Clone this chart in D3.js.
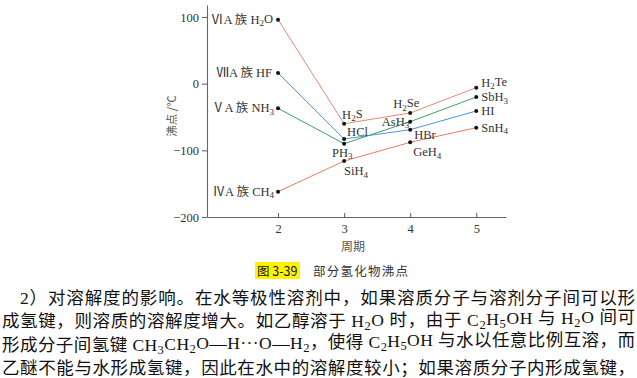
<!DOCTYPE html>
<html>
<head>
<meta charset="utf-8">
<script src="https://cdn.jsdelivr.net/npm/d3@7"></script>
<style>
  body { margin: 0; background: #fff; }
  svg { display: block; }
</style>
</head>
<body>
<script>
// boiling points of hydrides (°C)
const periods = [2, 3, 4, 5];
const groupIV = ["CH4", "SiH4", "GeH4", "SnH4"];
const groupIVValues = [-162, -116, -88, -66];
const groupV = ["NH3", "PH3", "AsH3", "SbH3"];
const groupVValues = [-37, -90, -57, -20];
const groupVI = ["H2O", "H2S", "H2Se", "H2Te"];
const groupVIValues = [96, -60, -44, -6];
const groupVII = ["HF", "HCl", "HBr", "HI"];
const groupVIIValues = [16, -83, -69, -41];
const groupNames = ["ⅣA 族", "ⅤA 族", "ⅥA 族", "ⅦA 族"];
const yTicks = [100, 0, -100, -200];

const bodyLines = [
  "2）对溶解度的影响。在水等极性溶剂中，如果溶质分子与溶剂分子间可以形",
  "成氢键，则溶质的溶解度增大。如乙醇溶于 H_2O 时，由于 C_2H_5OH 与 H_2O 间可",
  "形成分子间氢键 CH_3CH_2O—H···O—H_2，使得 C_2H_5OH 与水以任意比例互溶，而",
  "乙醚不能与水形成氢键，因此在水中的溶解度较小；如果溶质分子内形成氢键，"
];

const width = 637, height = 378;
const svg = d3.select("body").append("svg")
  .attr("width", width).attr("height", height);

const x = d3.scaleLinear().domain([0.925, 5.45]).range([207, 506]);
const y = d3.scaleLinear().domain([-200, 118]).range([217, 5]);

const serif = "'Liberation Serif', 'Noto Sans CJK SC', serif";
const cjk = "'Noto Sans CJK SC', sans-serif";

// axes
const yAxis = svg.append("g")
  .attr("transform", `translate(${x(0.925)},0)`)
  .call(d3.axisLeft(y).tickValues(yTicks).tickSize(5).tickSizeOuter(0).tickPadding(3));
const xAxis = svg.append("g")
  .attr("transform", `translate(0,${y(-200)})`)
  .call(d3.axisBottom(x).tickValues(periods).tickFormat(d3.format("d"))
    .tickSize(-4).tickSizeOuter(0).tickPadding(7));
[yAxis, xAxis].forEach(g => {
  g.selectAll("path, line").attr("stroke", "#666").attr("stroke-width", 1.1);
  g.selectAll("text").attr("fill", "#333").style("font-family", serif).style("font-size", "12.5px");
});

svg.append("text")
  .attr("transform", `translate(171,116) rotate(-90)`)
  .attr("text-anchor", "middle")
  .attr("dominant-baseline", "central")
  .style("font-family", cjk).style("font-size", "11.5px").attr("fill", "#555")
  .text("沸点 /℃");

svg.append("text")
  .attr("x", 353).attr("y", 251)
  .attr("text-anchor", "middle")
  .style("font-family", cjk).style("font-size", "12px").attr("fill", "#555")
  .text("周期");

// caption
svg.append("rect").attr("x", 255).attr("y", 262).attr("width", 45).attr("height", 17)
  .attr("fill", "#fff200");
svg.append("text").attr("x", 257).attr("y", 275.5)
  .style("font-family", cjk).style("font-size", "12.5px").attr("fill", "#111")
  .text("图 3-39");
svg.append("text").attr("x", 313).attr("y", 275.5)
  .attr("textLength", 95).attr("lengthAdjust", "spacing")
  .style("font-family", cjk).style("font-size", "12.5px").attr("fill", "#333")
  .text("部分氢化物沸点");

// series
const series = [
  { names: groupVI, values: groupVIValues, group: groupNames[2], color: "#e48a76" },
  { names: groupVII, values: groupVIIValues, group: groupNames[3], color: "#4a94dc" },
  { names: groupV, values: groupVValues, group: groupNames[1], color: "#3f9c6e" },
  { names: groupIV, values: groupIVValues, group: groupNames[0], color: "#e57d5f" }
];

// label placement: [dx, dy, anchor]
const labelPos = {
  H2O: [-5, 0, "end"], HF: [-6, 0, "end"], NH3: [-4, 0, "end"], CH4: [-4, 0, "end"],
  H2S: [-2, -9, "start"], HCl: [3, -7, "start"], PH3: [-12, 9, "start"], SiH4: [0, 10, "start"],
  H2Se: [-17, -9, "start"], AsH3: [-1, 0, "end"], HBr: [4, 5, "start"], GeH4: [3, 10, "start"],
  H2Te: [5, -5, "start"], SbH3: [5, 0, "start"], HI: [5, 0, "start"], SnH4: [5, 0, "start"]
};

const line = d3.line().x(d => x(d[0])).y(d => y(d[1]));

series.forEach(s => {
  const pts = periods.map((p, i) => [p, s.values[i]]);
  svg.append("path").datum(pts)
    .attr("d", line)
    .attr("fill", "none")
    .attr("stroke", s.color)
    .attr("stroke-width", 1);
});

function addFormula(sel, str) {
  // digits become subscripts
  const parts = str.match(/\d+|\D+/g);
  let sub = false;
  parts.forEach(p => {
    const isNum = /\d/.test(p);
    const t = sel.append("tspan").text(p);
    if (isNum && !sub) { t.attr("dy", "0.3em").style("font-size", "0.72em"); sub = true; }
    else if (!isNum && sub) { t.attr("dy", "-0.3em"); sub = false; }
  });
}

series.forEach(s => {
  s.names.forEach((n, i) => {
    const px = x(periods[i]), py = y(s.values[i]);
    svg.append("circle").attr("cx", px).attr("cy", py).attr("r", 2).attr("fill", "#111");
    const [dx, dy, anchor] = labelPos[n];
    const t = svg.append("text")
      .attr("x", px + dx).attr("y", py + dy + 4)
      .attr("text-anchor", anchor)
      .style("font-family", serif).style("font-size", "12.5px").attr("fill", "#333");
    if (i === 0) t.append("tspan").text(s.group + " ");
    addFormula(t, n);
  });
});

// body text
const bodyY = [304, 327, 351, 374];
bodyLines.forEach((txt, i) => {
  const x0 = i === 0 ? 20 : 2;
  const t = svg.append("text")
    .attr("x", x0).attr("y", bodyY[i])
    .attr("textLength", 635 - x0).attr("lengthAdjust", "spacing")
    .style("font-family", serif).style("font-size", "17.5px").attr("fill", "#111");
  const parts = txt.split(/(_\d)/);
  let sub = false;
  parts.forEach(p => {
    if (!p) return;
    if (p[0] === "_") {
      t.append("tspan").attr("dy", sub ? null : "0.2em").style("font-size", "12.5px").text(p[1]);
      sub = true;
    } else {
      t.append("tspan").attr("dy", sub ? "-0.2em" : null).text(p);
      sub = false;
    }
  });
});
</script>
</body>
</html>
